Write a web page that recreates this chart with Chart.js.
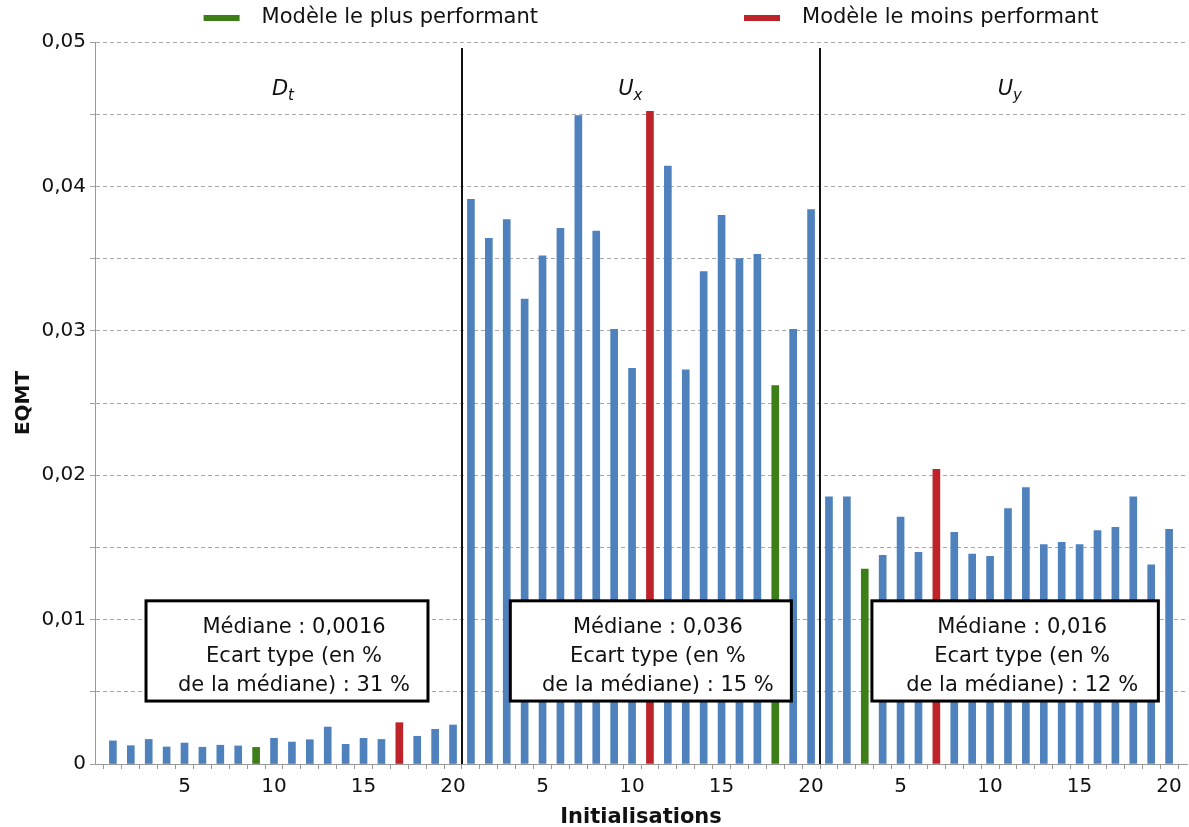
<!DOCTYPE html>
<html lang="fr">
<head>
    <meta charset="UTF-8">
    <title>EQMT par initialisation</title>
    <script src="https://cdn.jsdelivr.net/npm/chart.js"></script>
</head>
<style>
    html, body { margin: 0; padding: 0; background: white; }
    .chartBox { width: 1189px; height: 827px; }
</style>
<body>
<div class="chartBox">
    <canvas id="eqmtChart"></canvas>
</div>
<script>
    // valeurs (EQMT par initialisation)
    const dtValues = [0.0016, 0.00127, 0.0017, 0.00118, 0.00145, 0.00116, 0.0013, 0.00125, 0.00115, 0.00178,
                      0.00152, 0.00168, 0.00256, 0.00136, 0.00178, 0.0017, 0.00286, 0.00192, 0.0024, 0.0027];
    const uxValues = [0.0391, 0.0364, 0.0377, 0.0322, 0.0352, 0.0371, 0.0449, 0.0369, 0.0301, 0.0274,
                      0.0452, 0.0414, 0.0273, 0.0341, 0.0380, 0.0350, 0.0353, 0.0262, 0.0301, 0.0384];
    const uyValues = [0.0185, 0.0185, 0.0135, 0.01445, 0.0171, 0.01466, 0.0204, 0.01604, 0.01454, 0.01438,
                      0.01768, 0.01914, 0.01519, 0.01535, 0.01519, 0.01616, 0.01639, 0.0185, 0.0138, 0.01625];
    const groupNames = ['D', 'U', 'U'];
    const groupSubs = ['t', 'x', 'y'];
    const bestInit = [9, 18, 3];
    const worstInit = [17, 11, 7];
    const medianes = ['0,0016', '0,036', '0,016'];
    const ecarts = ['31 %', '15 %', '12 %'];
    const xTickLabels = ['5', '10', '15', '20'];
    const legendLabels = ['Modèle le plus performant', 'Modèle le moins performant'];

    const BLUE = '#4f81bd', GREEN = '#3d7e18', RED = '#bd2329';
    const FONT = 'DejaVu Sans';

    const groups = [dtValues, uxValues, uyValues];
    const points = [];
    const colors = [];
    groups.forEach((vals, g) => {
        vals.forEach((v, i) => {
            points.push({ x: g * 20 + i + 1, y: v });
            if (i + 1 === bestInit[g]) colors.push(GREEN);
            else if (i + 1 === worstInit[g]) colors.push(RED);
            else colors.push(BLUE);
        });
    });

    // placement des annotations (unités des axes)
    const groupLabelX = [10.5, 29.9, 51.1];
    const groupLabelY = 0.0469;
    const boxFrom = [2.85, 23.2, 43.4];
    const boxTo = [18.6, 38.9, 59.4];
    const boxTop = 0.0113, boxBottom = 0.00436;

    const decorations = {
        id: 'decorations',
        afterDatasetsDraw(chart) {
            const ctx = chart.ctx;
            const xs = chart.scales.x, ys = chart.scales.y;
            const area = chart.chartArea;
            ctx.save();

            // séparateurs
            ctx.strokeStyle = '#111';
            ctx.lineWidth = 2;
            [20.5, 40.5].forEach(v => {
                const px = Math.round(xs.getPixelForValue(v));
                ctx.beginPath();
                ctx.moveTo(px, area.top + 6);
                ctx.lineTo(px, area.bottom);
                ctx.stroke();
            });

            // noms des groupes
            ctx.fillStyle = '#111';
            ctx.textBaseline = 'alphabetic';
            groupNames.forEach((name, g) => {
                const cx = xs.getPixelForValue(groupLabelX[g]);
                const cy = ys.getPixelForValue(groupLabelY);
                ctx.font = 'italic 21px ' + FONT;
                const w1 = ctx.measureText(name).width;
                ctx.font = 'italic 15px ' + FONT;
                const w2 = ctx.measureText(groupSubs[g]).width;
                const x0 = cx - (w1 + w2) / 2;
                ctx.font = 'italic 21px ' + FONT;
                ctx.textAlign = 'left';
                ctx.fillText(name, x0, cy + 8);
                ctx.font = 'italic 15px ' + FONT;
                ctx.fillText(groupSubs[g], x0 + w1, cy + 13);
            });

            // encadrés
            ctx.textAlign = 'center';
            ctx.textBaseline = 'middle';
            ctx.font = '21px ' + FONT;
            medianes.forEach((m, g) => {
                const l = xs.getPixelForValue(boxFrom[g]);
                const r = xs.getPixelForValue(boxTo[g]);
                const t = ys.getPixelForValue(boxTop);
                const b = ys.getPixelForValue(boxBottom);
                ctx.fillStyle = 'white';
                ctx.fillRect(l, t, r - l, b - t);
                ctx.strokeStyle = '#000';
                ctx.lineWidth = 3;
                ctx.strokeRect(l, t, r - l, b - t);
                ctx.fillStyle = '#111';
                const cx = (l + r) / 2 + 7;
                const cy = (t + b) / 2 + 6;
                ctx.fillText('Médiane : ' + m, cx, cy - 29);
                ctx.fillText('Ecart type (en %', cx, cy);
                ctx.fillText('de la médiane) : ' + ecarts[g], cx, cy + 29);
            });

            // légende
            ctx.font = '21px ' + FONT;
            ctx.textAlign = 'left';
            const sw = 36, gapTxt = 22, gapItem = 206;
            const w0 = ctx.measureText(legendLabels[0]).width;
            const w1 = ctx.measureText(legendLabels[1]).width;
            const total = sw + gapTxt + w0 + gapItem + sw + gapTxt + w1;
            let lx = (area.left + area.right) / 2 + 10 - total / 2;
            const ly = 18;
            [GREEN, RED].forEach((c, k) => {
                ctx.fillStyle = c;
                ctx.fillRect(lx, ly - 3, sw, 6);
                ctx.fillStyle = '#111';
                ctx.fillText(legendLabels[k], lx + sw + gapTxt, ly);
                lx += sw + gapTxt + (k === 0 ? w0 : w1) + gapItem;
            });
            ctx.restore();
        }
    };

    document.addEventListener('DOMContentLoaded', function () {
        const ctx = document.getElementById('eqmtChart').getContext('2d');
        new Chart(ctx, {
            type: 'bar',
            data: {
                datasets: [{
                    label: 'EQMT',
                    data: points,
                    backgroundColor: colors,
                    borderWidth: 0,
                    barThickness: 7
                }]
            },
            options: {
                responsive: true,
                maintainAspectRatio: false,
                animation: false,
                layout: { padding: { top: 42, right: 2, left: 0, bottom: 0 } },
                plugins: {
                    legend: { display: false },
                    tooltip: { enabled: false }
                },
                scales: {
                    x: {
                        type: 'linear',
                        min: 0,
                        max: 61,
                        offset: false,
                        afterFit: s => { s.height = 63; s.paddingLeft = 0; s.paddingRight = 0; },
                        ticks: {
                            stepSize: 1,
                            autoSkip: false,
                            maxRotation: 0,
                            padding: 6,
                            color: '#111',
                            font: { family: FONT, size: 20 },
                            callback: v => (v >= 1 && v <= 60 && v % 5 === 0) ? xTickLabels[((v - 1) % 20 + 1) / 5 - 1] : ''
                        },
                        grid: { drawOnChartArea: false, tickLength: 5, color: '#999' },
                        border: { color: '#999', width: 1 },
                        title: {
                            display: true,
                            text: 'Initialisations',
                            color: '#111',
                            padding: { top: 0, bottom: -3 },
                            font: { family: FONT, size: 21, weight: 'bold' }
                        }
                    },
                    y: {
                        min: 0,
                        max: 0.05,
                        afterFit: s => { s.width = 95; },
                        ticks: {
                            stepSize: 0.005,
                            padding: 4,
                            color: '#111',
                            font: { family: FONT, size: 20 },
                            callback: v => {
                                const k = Math.round(v * 1000);
                                if (k % 10 !== 0) return '';
                                return k === 0 ? '0' : (k / 1000).toFixed(2).replace('.', ',');
                            }
                        },
                        grid: {
                            color: '#a8a8a8',
                            tickLength: 5,
                            tickColor: '#a0a0a0'
                        },
                        border: { color: '#999', width: 1, dash: [4, 3] },
                        title: {
                            display: true,
                            text: 'EQMT',
                            color: '#111',
                            padding: { top: 12, bottom: 0 },
                            font: { family: FONT, size: 20, weight: 'bold' }
                        }
                    }
                }
            },
            plugins: [decorations]
        });
    });
</script>
</body>
</html>
